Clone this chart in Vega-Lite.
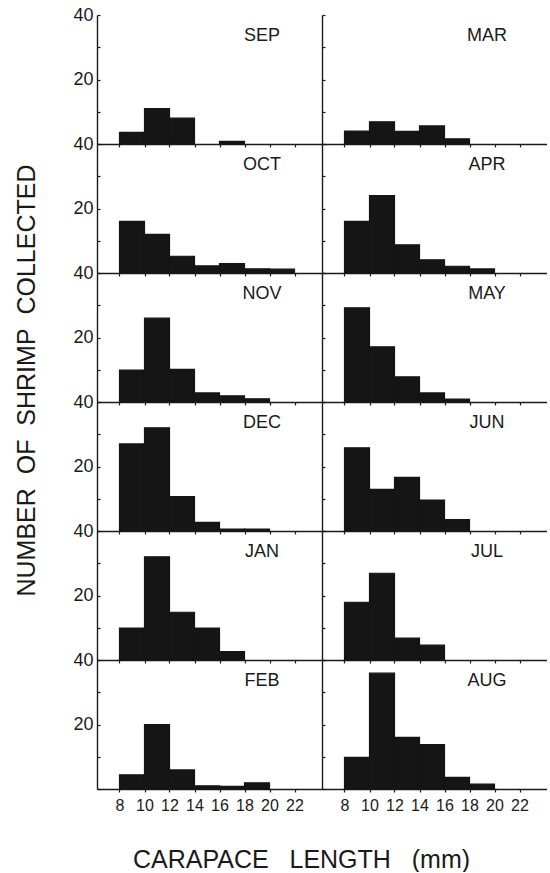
{
  "$schema": "https://vega.github.io/schema/vega-lite/v6.json",
  "padding": {"left": 13, "top": 6, "right": 0, "bottom": 0},
  "background": "white",
  "datasets": {
    "shrimp": [
      {"month": "SEP", "bin_start": 8, "bin_end": 10, "count": 3.6},
      {"month": "SEP", "bin_start": 10, "bin_end": 12, "count": 11},
      {"month": "SEP", "bin_start": 12, "bin_end": 14, "count": 8},
      {"month": "SEP", "bin_start": 16, "bin_end": 18, "count": 0.8},
      {"month": "OCT", "bin_start": 8, "bin_end": 10, "count": 16},
      {"month": "OCT", "bin_start": 10, "bin_end": 12, "count": 12},
      {"month": "OCT", "bin_start": 12, "bin_end": 14, "count": 5.2},
      {"month": "OCT", "bin_start": 14, "bin_end": 16, "count": 2.2},
      {"month": "OCT", "bin_start": 16, "bin_end": 18, "count": 2.9},
      {"month": "OCT", "bin_start": 18, "bin_end": 20, "count": 1.3},
      {"month": "OCT", "bin_start": 20, "bin_end": 22, "count": 1.2},
      {"month": "NOV", "bin_start": 8, "bin_end": 10, "count": 9.9},
      {"month": "NOV", "bin_start": 10, "bin_end": 12, "count": 26},
      {"month": "NOV", "bin_start": 12, "bin_end": 14, "count": 10.1},
      {"month": "NOV", "bin_start": 14, "bin_end": 16, "count": 2.8},
      {"month": "NOV", "bin_start": 16, "bin_end": 18, "count": 1.9},
      {"month": "NOV", "bin_start": 18, "bin_end": 20, "count": 1.0},
      {"month": "DEC", "bin_start": 8, "bin_end": 10, "count": 27},
      {"month": "DEC", "bin_start": 10, "bin_end": 12, "count": 32},
      {"month": "DEC", "bin_start": 12, "bin_end": 14, "count": 10.7},
      {"month": "DEC", "bin_start": 14, "bin_end": 16, "count": 2.7},
      {"month": "DEC", "bin_start": 16, "bin_end": 18, "count": 0.6},
      {"month": "DEC", "bin_start": 18, "bin_end": 20, "count": 0.6},
      {"month": "JAN", "bin_start": 8, "bin_end": 10, "count": 9.9},
      {"month": "JAN", "bin_start": 10, "bin_end": 12, "count": 32},
      {"month": "JAN", "bin_start": 12, "bin_end": 14, "count": 14.8},
      {"month": "JAN", "bin_start": 14, "bin_end": 16, "count": 9.9},
      {"month": "JAN", "bin_start": 16, "bin_end": 18, "count": 2.6},
      {"month": "FEB", "bin_start": 8, "bin_end": 10, "count": 4.4},
      {"month": "FEB", "bin_start": 10, "bin_end": 12, "count": 20},
      {"month": "FEB", "bin_start": 12, "bin_end": 14, "count": 5.9},
      {"month": "FEB", "bin_start": 14, "bin_end": 16, "count": 1.0},
      {"month": "FEB", "bin_start": 16, "bin_end": 18, "count": 0.8},
      {"month": "FEB", "bin_start": 18, "bin_end": 20, "count": 1.9},
      {"month": "MAR", "bin_start": 8, "bin_end": 10, "count": 4.0},
      {"month": "MAR", "bin_start": 10, "bin_end": 12, "count": 6.9},
      {"month": "MAR", "bin_start": 12, "bin_end": 14, "count": 3.9},
      {"month": "MAR", "bin_start": 14, "bin_end": 16, "count": 5.6},
      {"month": "MAR", "bin_start": 16, "bin_end": 18, "count": 1.6},
      {"month": "APR", "bin_start": 8, "bin_end": 10, "count": 16},
      {"month": "APR", "bin_start": 10, "bin_end": 12, "count": 24},
      {"month": "APR", "bin_start": 12, "bin_end": 14, "count": 8.75},
      {"month": "APR", "bin_start": 14, "bin_end": 16, "count": 4.1},
      {"month": "APR", "bin_start": 16, "bin_end": 18, "count": 2.1},
      {"month": "APR", "bin_start": 18, "bin_end": 20, "count": 1.25},
      {"month": "MAY", "bin_start": 8, "bin_end": 10, "count": 29.2},
      {"month": "MAY", "bin_start": 10, "bin_end": 12, "count": 17.1},
      {"month": "MAY", "bin_start": 12, "bin_end": 14, "count": 7.8},
      {"month": "MAY", "bin_start": 14, "bin_end": 16, "count": 2.8},
      {"month": "MAY", "bin_start": 16, "bin_end": 18, "count": 0.9},
      {"month": "JUN", "bin_start": 8, "bin_end": 10, "count": 25.8},
      {"month": "JUN", "bin_start": 10, "bin_end": 12, "count": 12.9},
      {"month": "JUN", "bin_start": 12, "bin_end": 14, "count": 16.6},
      {"month": "JUN", "bin_start": 14, "bin_end": 16, "count": 9.6},
      {"month": "JUN", "bin_start": 16, "bin_end": 18, "count": 3.5},
      {"month": "JUL", "bin_start": 8, "bin_end": 10, "count": 17.9},
      {"month": "JUL", "bin_start": 10, "bin_end": 12, "count": 26.9},
      {"month": "JUL", "bin_start": 12, "bin_end": 14, "count": 6.8},
      {"month": "JUL", "bin_start": 14, "bin_end": 16, "count": 4.6},
      {"month": "AUG", "bin_start": 8, "bin_end": 10, "count": 9.8},
      {"month": "AUG", "bin_start": 10, "bin_end": 12, "count": 35.9},
      {"month": "AUG", "bin_start": 12, "bin_end": 14, "count": 16},
      {"month": "AUG", "bin_start": 14, "bin_end": 16, "count": 13.75},
      {"month": "AUG", "bin_start": 16, "bin_end": 18, "count": 3.6},
      {"month": "AUG", "bin_start": 18, "bin_end": 20, "count": 1.5}
    ]
  },
  "config": {
    "view": {"stroke": null},
    "axis": {"grid": false, "domainColor": "#1a1a1a", "domainWidth": 1.4, "tickColor": "#1a1a1a", "tickWidth": 1.2, "labelFont": "Liberation Sans", "labelColor": "#1a1a1a", "titleFont": "Liberation Sans", "titleColor": "#1a1a1a", "titleFontWeight": "normal"},
    "axisX": {"tickSize": 3, "labelFontSize": 16, "labelPadding": 5, "labelOverlap": false},
    "axisY": {"tickSize": -3, "labelFontSize": 18, "labelPadding": 7},
    "bar": {"color": "#151515", "stroke": "#151515", "strokeWidth": 1.2},
    "text": {"font": "Liberation Sans", "fontSize": 18, "color": "#1a1a1a"}
  },
  "columns": 2,
  "spacing": 0,
  "bounds": "flush",
  "concat": [
    {"width": 225, "height": 129, "resolve": {"axis": {"x": "independent", "y": "independent"}}, "layer": [
      {"data": {"name": "shrimp"}, "transform": [{"filter": "datum.month === 'SEP'"}], "mark": {"type": "bar"},
       "encoding": {"x": {"field": "bin_start", "type": "quantitative", "scale": {"domain": [6.2, 24.2], "nice": false, "zero": false}, "axis": {"values": [8, 10, 12, 14, 16, 18, 20, 22], "labels": false, "title": null}}, "x2": {"field": "bin_end"},
        "y": {"field": "count", "type": "quantitative", "scale": {"domain": [0, 40], "nice": false}, "axis": {"values": [0, 10, 20, 30, 40], "labelExpr": "datum.value === 20 || datum.value === 40 ? datum.label : ''", "title": null}}, "y2": {"datum": 0}}},
      {"data": {"values": [{"month": "SEP"}]}, "mark": {"type": "text"}, "encoding": {"x": {"datum": 19.4, "type": "quantitative", "axis": null}, "y": {"datum": 33.4, "type": "quantitative", "axis": null}, "text": {"field": "month"}}}
    ]},
    {"width": 225, "height": 129, "resolve": {"axis": {"x": "independent", "y": "independent"}}, "layer": [
      {"data": {"name": "shrimp"}, "transform": [{"filter": "datum.month === 'MAR'"}], "mark": {"type": "bar"},
       "encoding": {"x": {"field": "bin_start", "type": "quantitative", "scale": {"domain": [6.2, 24.2], "nice": false, "zero": false}, "axis": {"values": [8, 10, 12, 14, 16, 18, 20, 22], "labels": false, "title": null}}, "x2": {"field": "bin_end"},
        "y": {"field": "count", "type": "quantitative", "scale": {"domain": [0, 40], "nice": false}, "axis": {"values": [0, 10, 20, 30, 40], "labels": false, "title": null}}, "y2": {"datum": 0}}},
      {"data": {"values": [{"month": "MAR"}]}, "mark": {"type": "text"}, "encoding": {"x": {"datum": 19.4, "type": "quantitative", "axis": null}, "y": {"datum": 33.4, "type": "quantitative", "axis": null}, "text": {"field": "month"}}}
    ]},
    {"width": 225, "height": 129, "resolve": {"axis": {"x": "independent", "y": "independent"}}, "layer": [
      {"data": {"name": "shrimp"}, "transform": [{"filter": "datum.month === 'OCT'"}], "mark": {"type": "bar"},
       "encoding": {"x": {"field": "bin_start", "type": "quantitative", "scale": {"domain": [6.2, 24.2], "nice": false, "zero": false}, "axis": {"values": [8, 10, 12, 14, 16, 18, 20, 22], "labels": false, "title": null}}, "x2": {"field": "bin_end"},
        "y": {"field": "count", "type": "quantitative", "scale": {"domain": [0, 40], "nice": false}, "axis": {"values": [0, 10, 20, 30, 40], "labelExpr": "datum.value === 20 || datum.value === 40 ? datum.label : ''", "title": null}}, "y2": {"datum": 0}}},
      {"data": {"values": [{"month": "OCT"}]}, "mark": {"type": "text"}, "encoding": {"x": {"datum": 19.4, "type": "quantitative", "axis": null}, "y": {"datum": 33.4, "type": "quantitative", "axis": null}, "text": {"field": "month"}}}
    ]},
    {"width": 225, "height": 129, "resolve": {"axis": {"x": "independent", "y": "independent"}}, "layer": [
      {"data": {"name": "shrimp"}, "transform": [{"filter": "datum.month === 'APR'"}], "mark": {"type": "bar"},
       "encoding": {"x": {"field": "bin_start", "type": "quantitative", "scale": {"domain": [6.2, 24.2], "nice": false, "zero": false}, "axis": {"values": [8, 10, 12, 14, 16, 18, 20, 22], "labels": false, "title": null}}, "x2": {"field": "bin_end"},
        "y": {"field": "count", "type": "quantitative", "scale": {"domain": [0, 40], "nice": false}, "axis": {"values": [0, 10, 20, 30, 40], "labels": false, "title": null}}, "y2": {"datum": 0}}},
      {"data": {"values": [{"month": "APR"}]}, "mark": {"type": "text"}, "encoding": {"x": {"datum": 19.4, "type": "quantitative", "axis": null}, "y": {"datum": 33.4, "type": "quantitative", "axis": null}, "text": {"field": "month"}}}
    ]},
    {"width": 225, "height": 129, "resolve": {"axis": {"x": "independent", "y": "independent"}}, "layer": [
      {"data": {"name": "shrimp"}, "transform": [{"filter": "datum.month === 'NOV'"}], "mark": {"type": "bar"},
       "encoding": {"x": {"field": "bin_start", "type": "quantitative", "scale": {"domain": [6.2, 24.2], "nice": false, "zero": false}, "axis": {"values": [8, 10, 12, 14, 16, 18, 20, 22], "labels": false, "title": null}}, "x2": {"field": "bin_end"},
        "y": {"field": "count", "type": "quantitative", "scale": {"domain": [0, 40], "nice": false}, "axis": {"values": [0, 10, 20, 30, 40], "labelExpr": "datum.value === 20 || datum.value === 40 ? datum.label : ''", "title": "NUMBER\u00a0\u00a0OF\u00a0\u00a0SHRIMP\u00a0\u00a0COLLECTED", "titleFontSize": 25, "titleAngle": -90, "titleAlign": "center", "titleBaseline": "alphabetic", "titleX": -63, "titleY": 107}}, "y2": {"datum": 0}}},
      {"data": {"values": [{"month": "NOV"}]}, "mark": {"type": "text"}, "encoding": {"x": {"datum": 19.4, "type": "quantitative", "axis": null}, "y": {"datum": 33.4, "type": "quantitative", "axis": null}, "text": {"field": "month"}}}
    ]},
    {"width": 225, "height": 129, "resolve": {"axis": {"x": "independent", "y": "independent"}}, "layer": [
      {"data": {"name": "shrimp"}, "transform": [{"filter": "datum.month === 'MAY'"}], "mark": {"type": "bar"},
       "encoding": {"x": {"field": "bin_start", "type": "quantitative", "scale": {"domain": [6.2, 24.2], "nice": false, "zero": false}, "axis": {"values": [8, 10, 12, 14, 16, 18, 20, 22], "labels": false, "title": null}}, "x2": {"field": "bin_end"},
        "y": {"field": "count", "type": "quantitative", "scale": {"domain": [0, 40], "nice": false}, "axis": {"values": [0, 10, 20, 30, 40], "labels": false, "title": null}}, "y2": {"datum": 0}}},
      {"data": {"values": [{"month": "MAY"}]}, "mark": {"type": "text"}, "encoding": {"x": {"datum": 19.4, "type": "quantitative", "axis": null}, "y": {"datum": 33.4, "type": "quantitative", "axis": null}, "text": {"field": "month"}}}
    ]},
    {"width": 225, "height": 129, "resolve": {"axis": {"x": "independent", "y": "independent"}}, "layer": [
      {"data": {"name": "shrimp"}, "transform": [{"filter": "datum.month === 'DEC'"}], "mark": {"type": "bar"},
       "encoding": {"x": {"field": "bin_start", "type": "quantitative", "scale": {"domain": [6.2, 24.2], "nice": false, "zero": false}, "axis": {"values": [8, 10, 12, 14, 16, 18, 20, 22], "labels": false, "title": null}}, "x2": {"field": "bin_end"},
        "y": {"field": "count", "type": "quantitative", "scale": {"domain": [0, 40], "nice": false}, "axis": {"values": [0, 10, 20, 30, 40], "labelExpr": "datum.value === 20 || datum.value === 40 ? datum.label : ''", "title": null}}, "y2": {"datum": 0}}},
      {"data": {"values": [{"month": "DEC"}]}, "mark": {"type": "text"}, "encoding": {"x": {"datum": 19.4, "type": "quantitative", "axis": null}, "y": {"datum": 33.4, "type": "quantitative", "axis": null}, "text": {"field": "month"}}}
    ]},
    {"width": 225, "height": 129, "resolve": {"axis": {"x": "independent", "y": "independent"}}, "layer": [
      {"data": {"name": "shrimp"}, "transform": [{"filter": "datum.month === 'JUN'"}], "mark": {"type": "bar"},
       "encoding": {"x": {"field": "bin_start", "type": "quantitative", "scale": {"domain": [6.2, 24.2], "nice": false, "zero": false}, "axis": {"values": [8, 10, 12, 14, 16, 18, 20, 22], "labels": false, "title": null}}, "x2": {"field": "bin_end"},
        "y": {"field": "count", "type": "quantitative", "scale": {"domain": [0, 40], "nice": false}, "axis": {"values": [0, 10, 20, 30, 40], "labels": false, "title": null}}, "y2": {"datum": 0}}},
      {"data": {"values": [{"month": "JUN"}]}, "mark": {"type": "text"}, "encoding": {"x": {"datum": 19.4, "type": "quantitative", "axis": null}, "y": {"datum": 33.4, "type": "quantitative", "axis": null}, "text": {"field": "month"}}}
    ]},
    {"width": 225, "height": 129, "resolve": {"axis": {"x": "independent", "y": "independent"}}, "layer": [
      {"data": {"name": "shrimp"}, "transform": [{"filter": "datum.month === 'JAN'"}], "mark": {"type": "bar"},
       "encoding": {"x": {"field": "bin_start", "type": "quantitative", "scale": {"domain": [6.2, 24.2], "nice": false, "zero": false}, "axis": {"values": [8, 10, 12, 14, 16, 18, 20, 22], "labels": false, "title": null}}, "x2": {"field": "bin_end"},
        "y": {"field": "count", "type": "quantitative", "scale": {"domain": [0, 40], "nice": false}, "axis": {"values": [0, 10, 20, 30, 40], "labelExpr": "datum.value === 20 || datum.value === 40 ? datum.label : ''", "title": null}}, "y2": {"datum": 0}}},
      {"data": {"values": [{"month": "JAN"}]}, "mark": {"type": "text"}, "encoding": {"x": {"datum": 19.4, "type": "quantitative", "axis": null}, "y": {"datum": 33.4, "type": "quantitative", "axis": null}, "text": {"field": "month"}}}
    ]},
    {"width": 225, "height": 129, "resolve": {"axis": {"x": "independent", "y": "independent"}}, "layer": [
      {"data": {"name": "shrimp"}, "transform": [{"filter": "datum.month === 'JUL'"}], "mark": {"type": "bar"},
       "encoding": {"x": {"field": "bin_start", "type": "quantitative", "scale": {"domain": [6.2, 24.2], "nice": false, "zero": false}, "axis": {"values": [8, 10, 12, 14, 16, 18, 20, 22], "labels": false, "title": null}}, "x2": {"field": "bin_end"},
        "y": {"field": "count", "type": "quantitative", "scale": {"domain": [0, 40], "nice": false}, "axis": {"values": [0, 10, 20, 30, 40], "labels": false, "title": null}}, "y2": {"datum": 0}}},
      {"data": {"values": [{"month": "JUL"}]}, "mark": {"type": "text"}, "encoding": {"x": {"datum": 19.4, "type": "quantitative", "axis": null}, "y": {"datum": 33.4, "type": "quantitative", "axis": null}, "text": {"field": "month"}}}
    ]},
    {"width": 225, "height": 129, "resolve": {"axis": {"x": "independent", "y": "independent"}}, "layer": [
      {"data": {"name": "shrimp"}, "transform": [{"filter": "datum.month === 'FEB'"}], "mark": {"type": "bar"},
       "encoding": {"x": {"field": "bin_start", "type": "quantitative", "scale": {"domain": [6.2, 24.2], "nice": false, "zero": false}, "axis": {"values": [8, 10, 12, 14, 16, 18, 20, 22], "labelOverlap": false, "labelBound": false, "labelFontSize": 16, "title": "CARAPACE\u00a0\u00a0\u00a0LENGTH\u00a0\u00a0\u00a0(mm)", "titleFontSize": 25, "titleBaseline": "alphabetic", "titleAlign": "center", "titleX": 204, "titleY": 78}}, "x2": {"field": "bin_end"},
        "y": {"field": "count", "type": "quantitative", "scale": {"domain": [0, 40], "nice": false}, "axis": {"values": [0, 10, 20, 30, 40], "labelExpr": "datum.value === 20 || datum.value === 40 ? datum.label : ''", "title": null}}, "y2": {"datum": 0}}},
      {"data": {"values": [{"month": "FEB"}]}, "mark": {"type": "text"}, "encoding": {"x": {"datum": 19.4, "type": "quantitative", "axis": null}, "y": {"datum": 33.4, "type": "quantitative", "axis": null}, "text": {"field": "month"}}}
    ]},
    {"width": 225, "height": 129, "resolve": {"axis": {"x": "independent", "y": "independent"}}, "layer": [
      {"data": {"name": "shrimp"}, "transform": [{"filter": "datum.month === 'AUG'"}], "mark": {"type": "bar"},
       "encoding": {"x": {"field": "bin_start", "type": "quantitative", "scale": {"domain": [6.2, 24.2], "nice": false, "zero": false}, "axis": {"values": [8, 10, 12, 14, 16, 18, 20, 22], "labelOverlap": false, "labelBound": false, "labelFontSize": 16, "title": null}}, "x2": {"field": "bin_end"},
        "y": {"field": "count", "type": "quantitative", "scale": {"domain": [0, 40], "nice": false}, "axis": {"values": [0, 10, 20, 30, 40], "labels": false, "title": null}}, "y2": {"datum": 0}}},
      {"data": {"values": [{"month": "AUG"}]}, "mark": {"type": "text"}, "encoding": {"x": {"datum": 19.4, "type": "quantitative", "axis": null}, "y": {"datum": 33.4, "type": "quantitative", "axis": null}, "text": {"field": "month"}}}
    ]}
  ]
}
